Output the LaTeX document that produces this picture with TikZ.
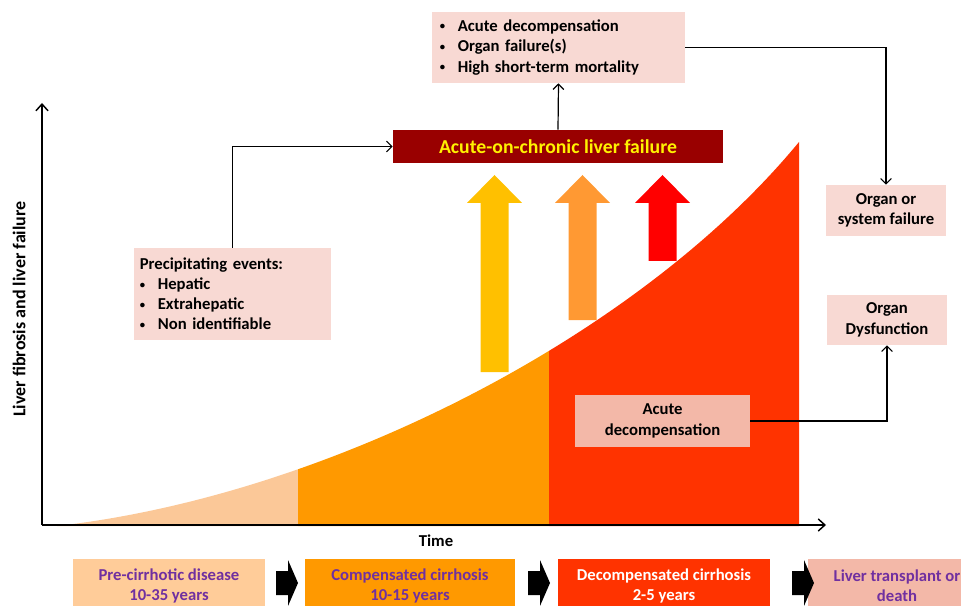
\documentclass[tikz,border=0pt]{standalone}
\usepackage{fontspec}
\setmainfont{Carlito}
\usetikzlibrary{arrows.meta, positioning}
\definecolor{precirr}{RGB}{251,200,152}
\definecolor{compcol}{RGB}{255,153,0}
\definecolor{decompcol}{RGB}{255,51,0}
\definecolor{aclfred}{RGB}{153,0,0}
\definecolor{pinkbox}{RGB}{248,217,211}
\definecolor{salmon}{RGB}{243,184,168}
\definecolor{stageone}{RGB}{255,204,153}
\definecolor{stagetxt}{RGB}{112,48,160}
\definecolor{arryellow}{RGB}{255,192,0}
\definecolor{arrorange}{RGB}{255,153,51}
\definecolor{arrred}{RGB}{255,0,0}
\newcommand\bul{\raisebox{1.3pt}{\fontsize{8}{8}\selectfont\textbullet}\hspace{9.5pt}}

\begin{document}
\begin{tikzpicture}[x=0.75pt,y=-0.75pt,
  font=\bfseries,
  infobox/.style={fill=pinkbox, align=center, font=\fontsize{12.5}{15.5}\selectfont\bfseries},
  stagebox/.style={minimum width=159pt, minimum height=40.5pt, align=center,
    text=stagetxt, font=\fontsize{12.5}{15}\selectfont\bfseries},
  conn/.style={line width=0.9pt, -{Straight Barb[length=4pt,width=8pt]}},
  axis/.style={line width=1.1pt, -{Straight Barb[length=5pt,width=9pt]}}]
\clip (0,0) rectangle (961,606);

% Area under the curve, split into the three stages
\begin{scope}
\clip (57,526) .. controls (330,495) and (640,335) .. (799,142) -- (799,526) -- cycle;
\fill[precirr] (50,130) rectangle (298,530);
\fill[compcol] (298,130) rectangle (549,530);
\fill[decompcol] (549,130) rectangle (800,530);
\end{scope}

% Axes
\coordinate (origin) at (42,525);
\coordinate (ytop) at (42,103);
\coordinate (xend) at (826,525);
\draw[axis] (origin) -- (ytop);
\draw[axis] (origin) -- (xend);
\node[rotate=90, font=\fontsize{13.5}{15}\selectfont\bfseries] (ylab) at (19,309) {Liver fibrosis and liver failure};
\node[font=\fontsize{12.5}{14}\selectfont\bfseries] (time) at (436,541) {Time};

% Block arrows pointing up
\foreach \cx/\bot/\col in {494.5/372/arryellow, 582.5/320/arrorange, 662.5/261/arrred}
  \fill[\col] (\cx-14,\bot) -- (\cx-14,203) -- (\cx-27.5,203) -- (\cx,175)
    -- (\cx+27.5,203) -- (\cx+14,203) -- (\cx+14,\bot) -- cycle;

% Boxes
\node[fill=aclfred, text=yellow, minimum width=247.5pt, minimum height=24.75pt,
  font=\fontsize{14.8}{17}\selectfont\bfseries] (aclf) at (558,146.5) {Acute-on-chronic liver failure};
\node[infobox, minimum width=189.75pt, minimum height=53.25pt, align=left, text width=178pt,
  font=\fontsize{12.5}{15.4}\selectfont\bfseries] (outcome) at (558.5,47.5)
  {\bul Acute decompensation\\ \bul Organ failure(s)\\ \bul High short-term mortality};
\node[infobox, minimum width=147.75pt, minimum height=69pt, align=left, text width=139pt,
  font=\fontsize{12.5}{15}\selectfont\bfseries] (precip) at (232.5,294)
  {Precipitating events:\\ \bul Hepatic\\ \bul Extrahepatic\\ \bul Non identifiable};
\node[infobox, minimum width=90pt, minimum height=38.25pt] (osf) at (886,210.5) {Organ or\\system failure};
\node[infobox, minimum width=90pt, minimum height=37.5pt] (odys) at (887,320) {Organ\\Dysfunction};
\node[infobox, fill=salmon, minimum width=131.25pt, minimum height=39pt] (adec) at (662.5,421) {Acute\\decompensation};

% Connectors
\draw[conn] (precip.north) |- (aclf.west);
\draw[conn] (aclf.north) -- (outcome.south);
\draw[conn] (outcome.east) -| (osf.north);
\draw[conn] (adec.east) -| (odys.south);

% Stages along the time axis
\node[stagebox, fill=stageone, minimum width=144pt] (pre) at (169,586) {Pre-cirrhotic disease\\10-35 years};
\node[stagebox, fill=compcol, minimum width=157.5pt] (comp) at (410,586) {Compensated cirrhosis\\10-15 years};
\node[stagebox, fill=decompcol, text=white] (decomp) at (664,586) {Decompensated cirrhosis\\2-5 years};
\node[stagebox, fill=salmon, minimum width=133.5pt] (end) at (897,586) {Liver transplant or\\death};
\foreach \ax in {276,528,792}
  \fill[black] (\ax,571) -- (\ax+12,571) -- (\ax+12,560) -- (\ax+22,583)
    -- (\ax+12,606) -- (\ax+12,595) -- (\ax,595) -- cycle;
\end{tikzpicture}
\end{document}
